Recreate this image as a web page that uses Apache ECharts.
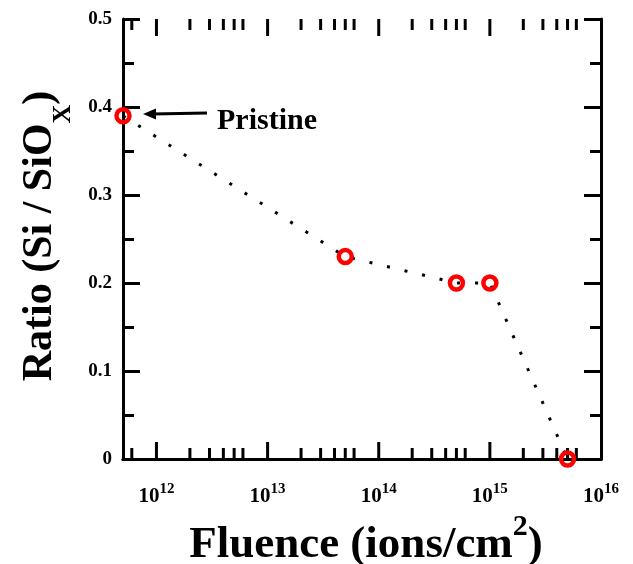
<!DOCTYPE html>
<html>
<head>
<meta charset="utf-8">
<script src="https://cdn.jsdelivr.net/npm/echarts@6/dist/echarts.min.js"></script>
<style>
  html, body { margin: 0; padding: 0; background: #fff; }
  #chart { width: 633px; height: 564px; }
</style>
</head>
<body>
<div id="chart"></div>
<script>
// Si / SiOx ratio versus ion fluence
const fluence = [5e11, 5e13, 5e14, 1e15, 5e15];
const ratio = [0.39, 0.23, 0.20, 0.20, 0.0];

const xRange = [5e11, 1e16];
const yRange = [0, 0.5];
const yStep = 0.1;

// decade ticks and in-between ticks on the bottom and top frame edges
const xMajorTicks = [1e12, 1e13, 1e14, 1e15];
const xMinorTicks = [
  6e11,
  2e12, 3e12, 4e12, 5e12, 6e12,
  2e13, 3e13, 4e13, 5e13, 6e13,
  2e14, 3e14, 4e14, 5e14, 6e14,
  2e15, 3e15, 4e15, 5e15, 6e15
];

const annotationText = 'Pristine';

const FONT = "'Liberation Serif', 'DejaVu Serif', serif";
const MAJOR_LEN = 17;
const MINOR_LEN = 11;

const chart = echarts.init(document.getElementById('chart'), null, { renderer: 'canvas' });

function powerLabel(v) {
  const e = Math.log10(v);
  const r = Math.round(e);
  if (Math.abs(e - r) > 1e-6) return '';
  return '{b|10}{s|' + r + '}';
}

function frameLine() { return { lineStyle: { color: '#000', width: 3 } }; }
function majorTick() { return { inside: true, length: MAJOR_LEN, lineStyle: { color: '#000', width: 3 } }; }
function minorTick() { return { show: true, splitNumber: 2, length: MINOR_LEN, lineStyle: { color: '#000', width: 3 } }; }

const tickData = xMajorTicks.map(v => [v, yRange[0], MAJOR_LEN])
  .concat(xMinorTicks.map(v => [v, yRange[0], MINOR_LEN]));

const option = {
  animation: false,
  backgroundColor: '#fff',
  grid: { left: 123, right: 32, top: 19, bottom: 105, containLabel: false, outerBoundsMode: 'none' },
  xAxis: [
    {
      type: 'log', logBase: 10, min: xRange[0], max: xRange[1], position: 'bottom',
      axisLine: frameLine(), axisTick: { show: false }, splitLine: { show: false },
      axisLabel: {
        margin: 23,
        formatter: powerLabel,
        rich: {
          b: { fontFamily: FONT, fontWeight: 'bold', fontSize: 21, lineHeight: 30, color: '#000' },
          s: { fontFamily: FONT, fontWeight: 'bold', fontSize: 15, lineHeight: 15, verticalAlign: 'top', color: '#000' }
        }
      },
      name: '{t|Fluence (ions/cm}{s|2}{t|)}',
      nameLocation: 'middle', nameGap: 46,
      nameTextStyle: {
        padding: [0, 0, 0, 8],
        rich: {
          t: { fontFamily: FONT, fontWeight: 'bold', fontSize: 45, lineHeight: 66, color: '#000' },
          s: { fontFamily: FONT, fontWeight: 'bold', fontSize: 30, lineHeight: 30, verticalAlign: 'top', color: '#000' }
        }
      }
    },
    {
      type: 'log', logBase: 10, min: xRange[0], max: xRange[1], position: 'top',
      axisLine: frameLine(), axisTick: { show: false }, axisLabel: { show: false }, splitLine: { show: false }
    }
  ],
  yAxis: [
    {
      type: 'value', min: yRange[0], max: yRange[1], interval: yStep, position: 'left',
      axisLine: frameLine(), axisTick: majorTick(), minorTick: minorTick(), splitLine: { show: false },
      axisLabel: { margin: 11, fontFamily: FONT, fontWeight: 'bold', fontSize: 19, color: '#000' },
      name: '{t|Ratio (Si / SiO}{sub|X}{t|)}',
      nameLocation: 'middle', nameGap: 47,
      nameTextStyle: {
        padding: [0, 0, 0, 6],
        rich: {
          t: { fontFamily: FONT, fontWeight: 'bold', fontSize: 42, lineHeight: 72, color: '#000' },
          sub: { fontFamily: FONT, fontWeight: 'bold', fontSize: 26, lineHeight: 26, verticalAlign: 'bottom', color: '#000' }
        }
      }
    },
    {
      type: 'value', min: yRange[0], max: yRange[1], interval: yStep, position: 'right',
      axisLine: frameLine(), axisTick: majorTick(), minorTick: minorTick(),
      axisLabel: { show: false }, splitLine: { show: false }
    }
  ],
  series: [
    {
      // log-scale ticks on the bottom and top edges, pointing into the plot
      type: 'custom',
      coordinateSystem: 'cartesian2d',
      xAxisIndex: 0, yAxisIndex: 0,
      silent: true,
      clip: false,
      z: 1,
      data: tickData,
      renderItem: function (params, api) {
        const v = api.value(0);
        const len = api.value(2);
        const b = api.coord([v, yRange[0]]);
        const t = api.coord([v, yRange[1]]);
        const st = { stroke: '#000', lineWidth: 3 };
        return {
          type: 'group',
          children: [
            { type: 'line', shape: { x1: b[0], y1: b[1], x2: b[0], y2: b[1] - len }, style: st },
            { type: 'line', shape: { x1: t[0], y1: t[1], x2: t[0], y2: t[1] + len }, style: st }
          ]
        };
      }
    },
    {
      type: 'line',
      xAxisIndex: 0, yAxisIndex: 0,
      data: fluence.map((f, i) => [f, ratio[i]]),
      symbol: 'circle',
      symbolSize: 13,
      clip: false,
      z: 5,
      itemStyle: { color: 'rgba(0,0,0,0)', borderColor: '#ff0000', borderWidth: 4.5 },
      lineStyle: { color: '#000', width: 3, type: [3, 15], cap: 'butt' }
    }
  ],
  graphic: [
    {
      type: 'group',
      children: [
        { type: 'line', shape: { x1: 207, y1: 113, x2: 152, y2: 114 }, style: { stroke: '#000', lineWidth: 3 } },
        { type: 'polygon', shape: { points: [[143, 114], [156, 108.5], [156, 119.5]] }, style: { fill: '#000' } },
        {
          type: 'text', x: 217, y: 121,
          style: { text: annotationText, fontFamily: FONT, fontWeight: 'bold', fontSize: 30, fill: '#000', verticalAlign: 'middle', align: 'left' }
        }
      ]
    }
  ]
};

chart.setOption(option);
</script>
</body>
</html>
